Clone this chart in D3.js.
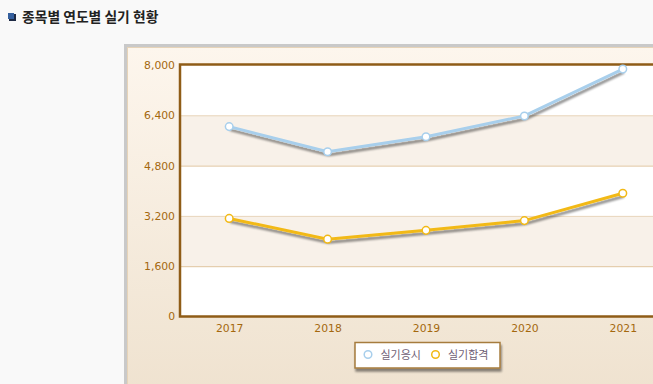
<!DOCTYPE html>
<html><head><meta charset="utf-8">
<script src="https://cdn.jsdelivr.net/npm/d3@7"></script>
<style>
html,body{margin:0;padding:0;background:#f9f9f9;overflow:hidden;}
svg{display:block;}
</style></head>
<body>
<svg id="c" width="653" height="384"></svg>
<script>
const years = ["2017","2018","2019","2020","2021"];
const applicants = [6040, 5240, 5720, 6380, 7870];
const passed = [3120, 2460, 2740, 3050, 3920];
const yTicks = [0, 1600, 3200, 4800, 6400, 8000];
const seriesNames = ["실기응시", "실기합격"];
const seriesColors = ["#a8cfec", "#f2b916"];

(function(){
const svg = d3.select("#c");
const defs = svg.append("defs");
const g1 = defs.append("linearGradient").attr("id","bg").attr("x1",0).attr("y1",0).attr("x2",0).attr("y2",1);
g1.append("stop").attr("offset","0%").attr("stop-color","#fdf6ed");
g1.append("stop").attr("offset","100%").attr("stop-color","#efe2cf");
const sh = defs.append("filter").attr("id","sh").attr("x","-10%").attr("y","-10%").attr("width","120%").attr("height","130%");
sh.append("feGaussianBlur").attr("in","SourceAlpha").attr("stdDeviation",1.2).attr("result","b");
sh.append("feOffset").attr("in","b").attr("dx",1).attr("dy",2.5).attr("result","o");
sh.append("feComponentTransfer").attr("in","o").attr("result","o2").append("feFuncA").attr("type","linear").attr("slope",0.45);
const m = sh.append("feMerge"); m.append("feMergeNode").attr("in","o2"); m.append("feMergeNode").attr("in","SourceGraphic");

// Title
svg.append("rect").attr("x",9).attr("y",14).attr("width",7).attr("height",7).attr("fill","#1e2a44");
svg.append("rect").attr("x",8).attr("y",13).attr("width",6).attr("height",6).attr("fill","#35609e");
svg.append("text").attr("x",22).attr("y",22).attr("font-family","'Noto Sans CJK KR', sans-serif")
  .attr("font-weight","bold").attr("font-size",13.8).attr("fill","#222").text("종목별 연도별 실기 현황");

// Outer panel
svg.append("rect").attr("x",124).attr("y",44).attr("width",540).attr("height",350).attr("fill","#c9c9c9");
svg.append("rect").attr("x",127.5).attr("y",47.5).attr("width",540).attr("height",350).attr("fill","url(#bg)").attr("stroke","#e6d3b8").attr("stroke-width",1);

const pL = 180, pT = 65, pB = 316.5, pR = 672;
const x = d3.scalePoint().domain(years).range([pL, pR]).padding(0.5);
const y = d3.scaleLinear().domain([0, 8000]).range([pB, pT]);

svg.append("rect").attr("x",pL).attr("y",pT).attr("width",pR-pL).attr("height",pB-pT).attr("fill","#fff");
const bands = [[4800,6400],[1600,3200]];
svg.selectAll(".band").data(bands).enter().append("rect")
  .attr("x",pL).attr("width",pR-pL)
  .attr("y",d=>y(d[1])).attr("height",d=>y(d[0])-y(d[1])).attr("fill","#f8f1e9");
svg.selectAll(".grid").data(yTicks.slice(1,-1)).enter().append("line")
  .attr("x1",pL).attr("x2",pR).attr("y1",d=>y(d)+0.5).attr("y2",d=>y(d)+0.5)
  .attr("stroke",(d,i)=> i%2===0 ? "#dfc39c" : "#e8d6bd").attr("stroke-width",1);

const fnt = "'DejaVu Sans', Verdana, sans-serif";
const yAxis = d3.axisLeft(y).tickValues(yTicks).tickSize(0).tickPadding(5).tickFormat(d3.format(","));
const ya = svg.append("g").attr("transform",`translate(${pL},0)`).call(yAxis);
ya.select(".domain").remove();
ya.selectAll("text").attr("font-family",fnt).attr("font-size",10.8).attr("fill","#a4680e");
const xAxis = d3.axisBottom(x).tickSize(0).tickPadding(8);
const xa = svg.append("g").attr("transform",`translate(0,${pB})`).call(xAxis);
xa.select(".domain").remove();
xa.selectAll("text").attr("font-family",fnt).attr("font-size",10.8).attr("fill","#a4680e");

svg.append("rect").attr("x",pL).attr("y",pT-0.5).attr("width",pR-pL).attr("height",pB-pT+0.5)
  .attr("fill","none").attr("stroke","#8f5c17").attr("stroke-width",2.5);

const series = [applicants, passed];
const line = d3.line().x((d,i)=>x(years[i])).y(d=>y(d));
series.forEach((s,k)=>{
  svg.append("path").datum(s).attr("d",line).attr("fill","none")
    .attr("stroke",seriesColors[k]).attr("stroke-width",3).attr("filter","url(#sh)");
  svg.selectAll(".pt"+k).data(s).enter().append("circle")
    .attr("cx",(d,i)=>x(years[i])).attr("cy",d=>y(d)).attr("r",3.8)
    .attr("fill","#fff").attr("stroke",seriesColors[k]).attr("stroke-width",1.5);
});

const lg = svg.append("g");
lg.append("rect").attr("x",355).attr("y",342.5).attr("width",145).attr("height",25.5)
  .attr("fill","#fff").attr("stroke","#a67c3e").attr("stroke-width",1.5).attr("filter","url(#sh)");
const lx = [368, 435.5];
seriesNames.forEach((n,k)=>{
  lg.append("circle").attr("cx",lx[k]).attr("cy",354.5).attr("r",3.8).attr("fill","#fff")
    .attr("stroke",seriesColors[k]).attr("stroke-width",1.5);
  lg.append("text").attr("x",lx[k]+12.5).attr("y",359).attr("font-family","'Noto Sans CJK KR', sans-serif")
    .attr("font-size",11).attr("fill","#6f6075").text(n);
});
})();
</script>
</body></html>
